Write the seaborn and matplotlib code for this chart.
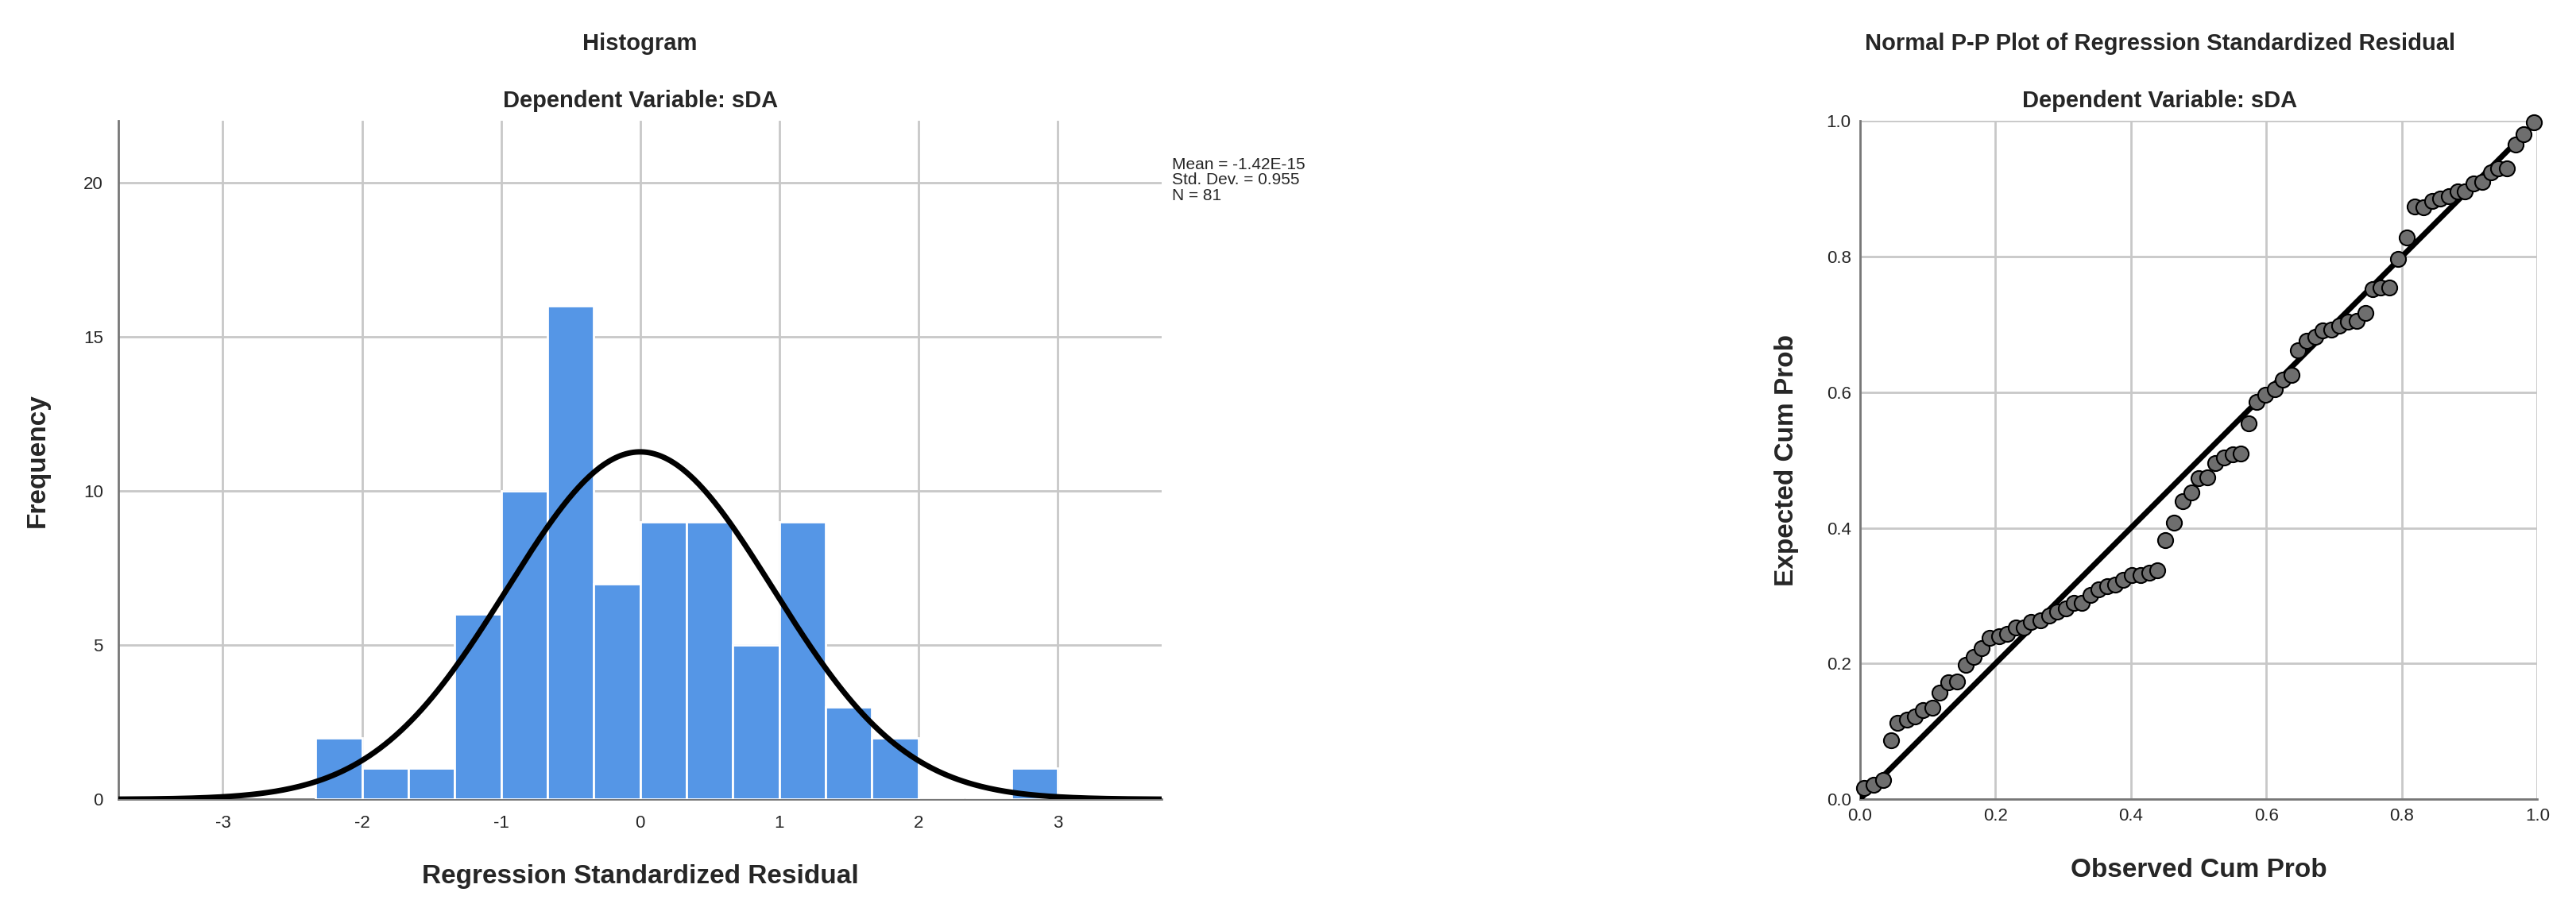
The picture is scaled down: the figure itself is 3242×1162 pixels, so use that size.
import numpy as np
import pandas as pd
import matplotlib
matplotlib.use("Agg")
import matplotlib.pyplot as plt
import seaborn as sns

sns.set_theme(style="white")
plt.rcParams['font.family'] = ['Liberation Sans', 'DejaVu Sans']

bin_edges = [-2.333, -2.0, -1.667, -1.333, -1.0, -0.667, -0.333, 0.0, 0.333, 0.667, 1.0, 1.333, 1.667, 2.0, 2.333, 2.667, 3.0]
bin_counts = [2, 1, 1, 6, 10, 16, 7, 9, 9, 5, 9, 3, 2, 0, 0, 1]
res_mean = -1.42e-15
res_sd = 0.955
res_n = 81

observed_cum = [0.006, 0.020, 0.034, 0.046, 0.056, 0.069, 0.081, 0.093, 0.107, 0.118, 0.130, 0.143, 0.156, 0.168, 0.180, 0.191,
                0.205, 0.217, 0.230, 0.242, 0.253, 0.267, 0.279, 0.291, 0.304, 0.316, 0.327, 0.340, 0.352, 0.365, 0.377, 0.388,
                0.402, 0.414, 0.427, 0.439, 0.451, 0.464, 0.476, 0.489, 0.500, 0.513, 0.525, 0.537, 0.550, 0.562, 0.574, 0.586,
                0.599, 0.612, 0.624, 0.637, 0.647, 0.659, 0.672, 0.683, 0.696, 0.708, 0.721, 0.733, 0.746, 0.757, 0.769, 0.781,
                0.794, 0.807, 0.819, 0.832, 0.845, 0.857, 0.869, 0.882, 0.893, 0.906, 0.919, 0.931, 0.942, 0.955, 0.968, 0.980, 0.995]
expected_cum = [0.017, 0.022, 0.028, 0.087, 0.113, 0.117, 0.122, 0.132, 0.135, 0.157, 0.172, 0.174, 0.198, 0.210, 0.223, 0.238,
                0.240, 0.244, 0.253, 0.253, 0.262, 0.264, 0.271, 0.277, 0.281, 0.289, 0.290, 0.301, 0.309, 0.314, 0.316, 0.323,
                0.330, 0.330, 0.334, 0.337, 0.382, 0.408, 0.439, 0.452, 0.473, 0.474, 0.496, 0.504, 0.509, 0.510, 0.554, 0.586,
                0.596, 0.605, 0.618, 0.625, 0.662, 0.676, 0.682, 0.691, 0.692, 0.698, 0.704, 0.705, 0.717, 0.752, 0.754, 0.754,
                0.797, 0.828, 0.874, 0.873, 0.882, 0.886, 0.889, 0.896, 0.896, 0.908, 0.910, 0.924, 0.930, 0.930, 0.965, 0.980, 0.998]

fig = plt.figure(figsize=(32.42, 11.62), dpi=100)
ax1 = fig.add_axes([0.046, 0.134, 0.405, 0.735])
ax2 = fig.add_axes([0.722, 0.134, 0.263, 0.735])

# Histogram
mids = [(bin_edges[i] + bin_edges[i + 1]) / 2 for i in range(len(bin_counts))]
hdf = pd.DataFrame({"x": mids, "w": bin_counts})
sns.histplot(data=hdf, x="x", weights="w", bins=bin_edges, ax=ax1, color="#5596E6",
             edgecolor="white", linewidth=2, alpha=1, zorder=3)
xs = np.linspace(-3.75, 3.75, 400)
bw = bin_edges[1] - bin_edges[0]
ys = res_n * bw * np.exp(-0.5 * ((xs - res_mean) / res_sd) ** 2) / (res_sd * np.sqrt(2 * np.pi))
sns.lineplot(x=xs, y=ys, ax=ax1, color="black", linewidth=5, zorder=4)
ax1.set_xlim(-3.75, 3.75)
ax1.set_ylim(0, 22)
ax1.set_xticks([-3, -2, -1, 0, 1, 2, 3])
ax1.set_xticklabels(["-3", "-2", "-1", "0", "1", "2", "3"])
ax1.set_yticks([0, 5, 10, 15, 20])
ax1.grid(True, color="#c8c8c8", linewidth=2, zorder=0)
ax1.set_axisbelow(True)
for s in ["top", "right"]:
    ax1.spines[s].set_visible(False)
for s in ["left", "bottom"]:
    ax1.spines[s].set_color("#777777")
    ax1.spines[s].set_linewidth(2)
ax1.tick_params(labelsize=16, length=0, pad=14)
ax1.set_xlabel("Regression Standardized Residual", fontsize=24, fontweight="bold", labelpad=30)
ax1.set_ylabel("Frequency", fontsize=24, fontweight="bold", labelpad=30)
fig.text(0.2485, 0.953, "Histogram", ha="center", va="center", fontsize=21, fontweight="bold")
fig.text(0.2485, 0.891, "Dependent Variable: sDA", ha="center", va="center", fontsize=21, fontweight="bold")
fig.text(0.455, 0.83, "Mean = -1.42E-15\nStd. Dev. = 0.955\nN = 81", ha="left", va="top",
         fontsize=15, linespacing=1.05)

# P-P plot
pdf = pd.DataFrame({"obs": observed_cum, "exp": expected_cum})
sns.lineplot(x=[0, 1], y=[0, 1], ax=ax2, color="black", linewidth=5, zorder=3)
sns.scatterplot(data=pdf, x="obs", y="exp", ax=ax2, s=190, color="#6e6e6e",
                edgecolor="black", linewidth=1.5, zorder=4, clip_on=False)
ax2.set_xlim(0, 1)
ax2.set_ylim(0, 1)
ticks = [0.0, 0.2, 0.4, 0.6, 0.8, 1.0]
ax2.set_xticks(ticks)
ax2.set_yticks(ticks)
ax2.set_xticklabels(["0.0", "0.2", "0.4", "0.6", "0.8", "1.0"])
ax2.set_yticklabels(["0.0", "0.2", "0.4", "0.6", "0.8", "1.0"])
ax2.grid(True, color="#c8c8c8", linewidth=2, zorder=0)
ax2.set_axisbelow(True)
for s in ["top", "right"]:
    ax2.spines[s].set_visible(False)
for s in ["left", "bottom"]:
    ax2.spines[s].set_color("#777777")
    ax2.spines[s].set_linewidth(2)
ax2.tick_params(labelsize=16, length=0, pad=8)
ax2.set_xlabel("Observed Cum Prob", fontsize=24, fontweight="bold", labelpad=30)
ax2.set_ylabel("Expected Cum Prob", fontsize=24, fontweight="bold", labelpad=25)
fig.text(0.8385, 0.953, "Normal P-P Plot of Regression Standardized Residual", ha="center", va="center",
         fontsize=21, fontweight="bold")
fig.text(0.8385, 0.891, "Dependent Variable: sDA", ha="center", va="center", fontsize=21, fontweight="bold")

fig.savefig("out.png", dpi=100)
